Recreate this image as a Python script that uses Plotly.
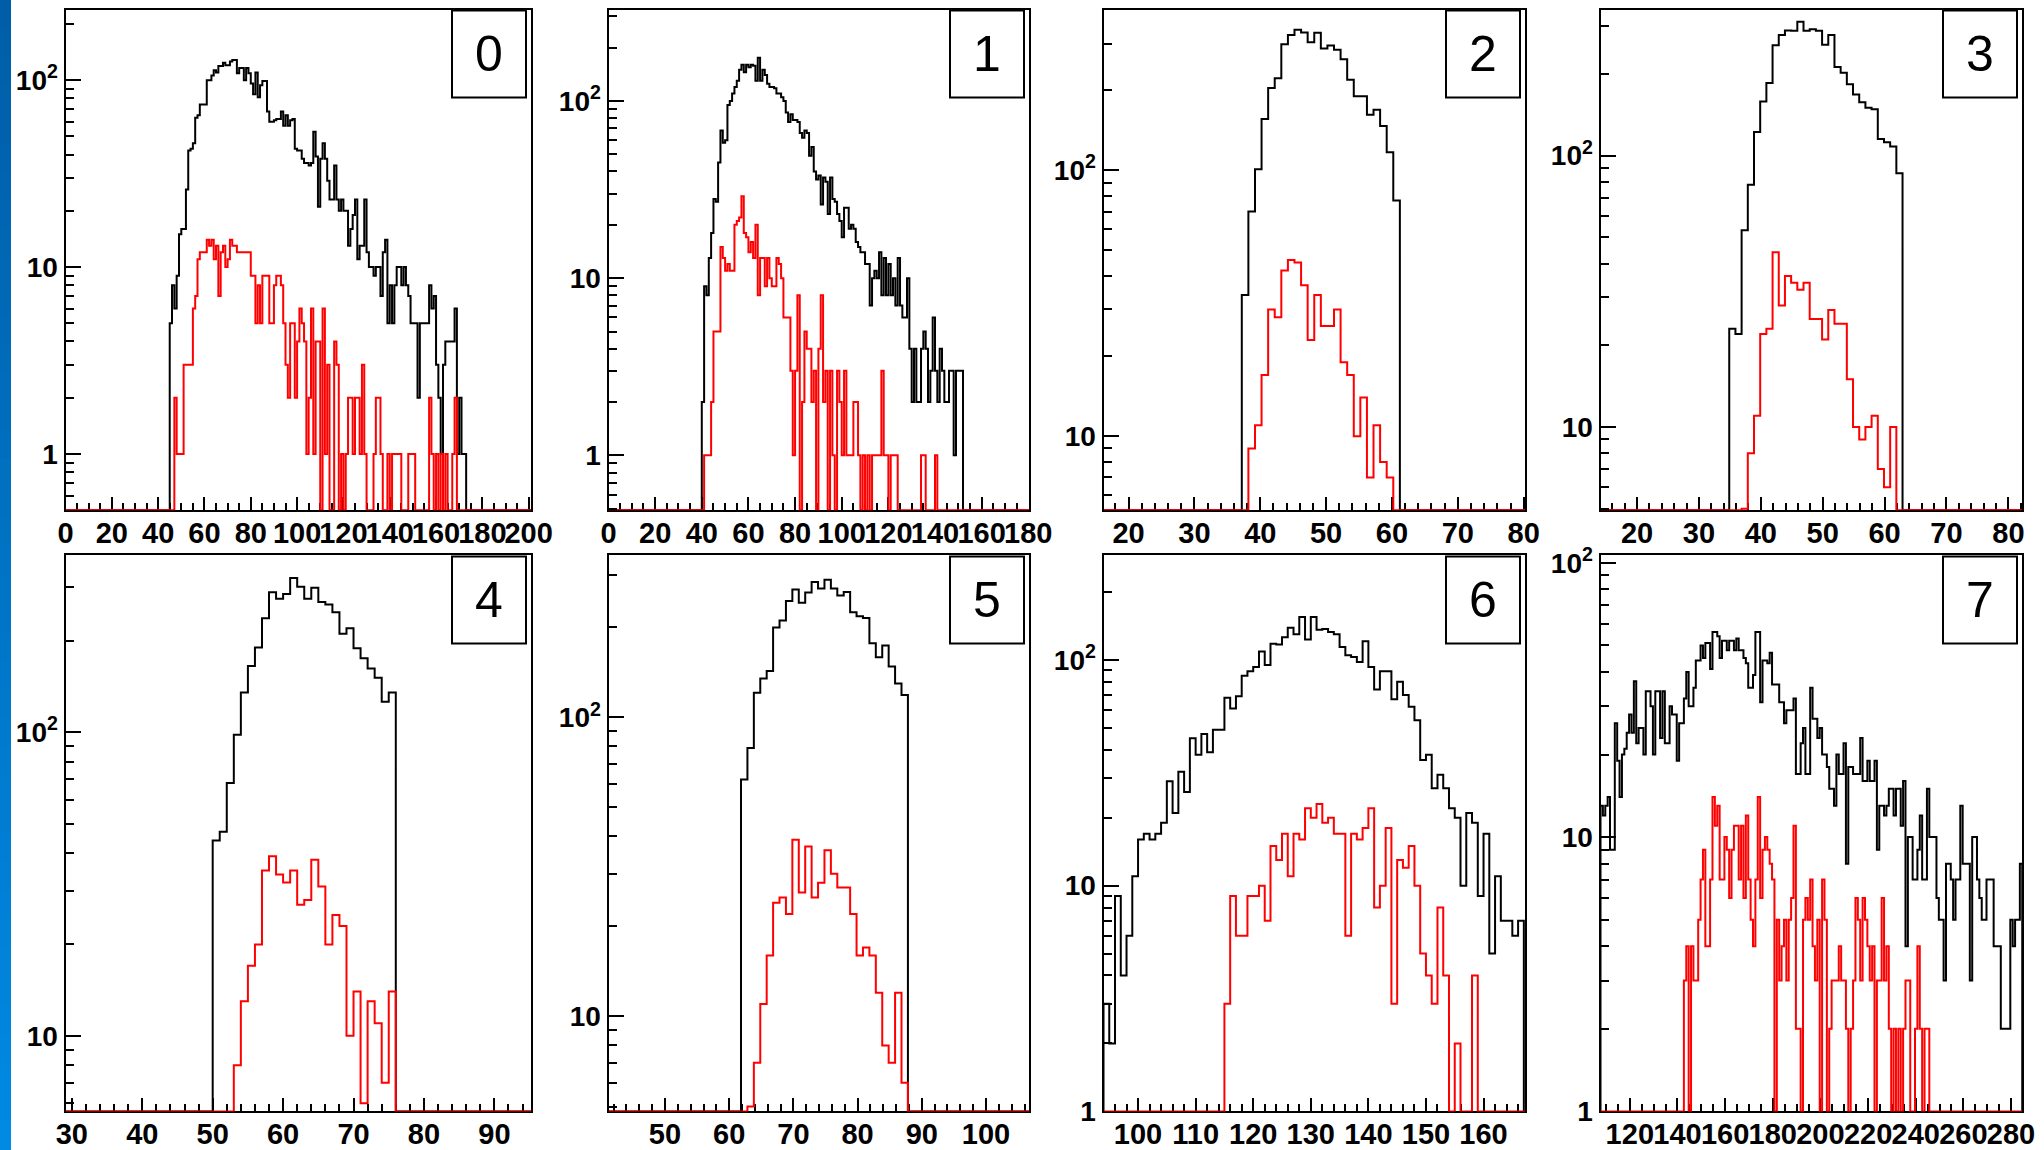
import numpy as np
import plotly.graph_objects as go

# ---------------- data ----------------
panel_labels = ["0", "1", "2", "3", "4", "5", "6", "7"]
bin_width = 1.0
black_start = [45, 40, 37.2, 34.9, 50, 61.84, 94, 107.7]
red_start = [45, 40, 37.2, 34.9, 50, 61.84, 94, 142.7]

p0_black = [5, 8, 6, 9, 15, 16, 16, 26, 42, 43,
            46, 63, 65, 74, 74, 74, 100, 100, 106, 113,
            110, 119, 119, 124, 120, 120, 126, 128, 128, 109,
            116, 116, 100, 116, 109, 96, 84, 110, 81, 94,
            99, 99, 68, 60, 60, 61, 62, 62, 68, 57,
            65, 57, 61, 62, 43, 42, 42, 38, 36, 36,
            35, 36, 53, 39, 21, 38, 46, 38, 29, 23,
            23, 35, 23, 20, 23, 20, 20, 13, 16, 19,
            23, 11, 13, 13, 23, 12, 10, 10, 9, 10,
            10, 7, 12, 14, 5, 8, 5, 8, 10, 10,
            8, 10, 8, 7, 5, 5, 5, 2, 5, 5,
            5, 5, 8, 6, 7, 3, 2, 1, 3, 4,
            4, 4, 4, 6, 1, 2, 1, 1]
p0_red = [0, 0, 2, 1, 1, 1, 3, 3, 3, 3,
          6, 7, 11, 12, 12, 12, 14, 13, 14, 11,
          13, 7, 12, 13, 10, 11, 14, 13, 13, 12,
          12, 12, 12, 12, 12, 9, 9, 5, 8, 5,
          9, 9, 9, 5, 5, 8, 9, 9, 8, 5,
          3, 2, 5, 5, 2, 4, 6, 5, 4, 1,
          2, 6, 1, 4, 4, 0, 6, 1, 3, 0,
          0, 4, 3, 0, 1, 0, 1, 2, 2, 1,
          2, 2, 1, 3, 1, 0, 0, 0, 1, 2,
          2, 1, 0, 0, 1, 0, 1, 1, 1, 1,
          0, 0, 0, 1, 1, 1, 0, 0, 0, 0,
          0, 0, 2, 1, 0, 1, 0, 1, 0, 1,
          0, 0, 1, 2, 0, 0, 0, 0]

p1_black = [2, 9, 8, 13, 18, 28, 27, 45, 68, 58,
            60, 95, 100, 110, 120, 130, 150, 160, 145, 160,
            155, 160, 158, 130, 175, 130, 150, 140, 125, 120,
            120, 118, 110, 110, 105, 100, 86, 76, 84, 78,
            78, 76, 66, 62, 68, 66, 49, 55, 40, 36,
            38, 26, 37, 35, 23, 37, 28, 27, 23, 21,
            17, 25, 25, 19, 20, 19, 16, 15, 14, 14,
            12, 12, 7, 10, 11, 10, 14, 8, 13, 8,
            12, 8, 10, 7, 13, 7, 6, 6, 10, 4,
            2, 4, 2, 2, 4, 5, 4, 2, 3, 6,
            3, 2, 4, 3, 2, 2, 3, 3, 1, 3,
            3, 3]
p1_red = [0, 1, 1, 1, 2, 5, 5, 5, 15, 13,
          11, 12, 11, 11, 20, 21, 22, 29, 18, 17,
          14, 16, 13, 20, 8, 13, 13, 9, 13, 10,
          9, 9, 13, 12, 10, 6, 6, 6, 3, 1,
          3, 8, 0, 2, 5, 4, 4, 2, 3, 0,
          4, 8, 2, 3, 0, 3, 1, 0, 3, 2,
          1, 3, 1, 1, 1, 2, 2, 1, 0, 1,
          0, 1, 0, 1, 1, 1, 1, 3, 1, 1,
          0, 1, 1, 1, 0, 0, 0, 0, 0, 0,
          0, 0, 0, 0, 1, 1, 0, 0, 0, 0,
          1, 0, 0, 0, 0, 0, 0, 0, 0, 0,
          0, 0]

p2_black = [34, 70, 101, 156, 204, 222, 298, 323, 338, 330, 303, 329,
            287, 295, 284, 262, 219, 190, 190, 162, 169, 147, 117, 77]
p2_red = [0, 9, 11, 17, 30, 28, 42, 46, 45, 37, 23, 34,
          26, 26, 30, 19, 17, 10, 14, 7, 11, 8, 7, 0]

p3_black = [23, 22, 53, 78, 122, 158, 185, 255, 278, 289, 288, 311, 288, 292,
            288, 256, 278, 212, 202, 183, 168, 157, 150, 148, 115, 112, 108, 86]
p3_red = [0, 0, 5, 8, 11, 22, 23, 44, 28, 36, 34, 32, 34, 25,
          25, 21, 27, 24, 24, 15, 10, 9, 10, 11, 7, 6, 10, 0]

p4_black = [44, 47, 68, 98, 135, 165, 190, 237, 289, 275, 285, 322, 301,
            275, 299, 268, 263, 248, 211, 220, 189, 175, 162, 151, 126, 135]
p4_red = [0, 0, 0, 8, 13, 17, 20, 35, 39, 34, 32, 35, 27,
          28, 38, 31, 20, 25, 23, 10, 14, 6, 13, 11, 7, 14]

p5_black = [62, 79, 121, 135, 143, 200, 211, 245, 268, 242, 262, 284, 270,
            289, 270, 256, 263, 225, 218, 215, 177, 159, 174, 148, 130, 119]
p5_red = [0, 5, 7, 11, 16, 24, 25, 22, 39, 26, 37, 25, 28,
          36, 30, 27, 27, 22, 16, 17, 16, 12, 8, 7, 12, 6]

p6_black = [3, 2, 9, 4, 6, 11, 16, 17, 16, 17,
            19, 29, 21, 32, 26, 45, 38, 47, 39, 49,
            49, 68, 61, 69, 85, 89, 93, 109, 95, 118,
            117, 126, 139, 130, 155, 123, 155, 136, 137, 133,
            130, 114, 105, 103, 98, 121, 93, 74, 89, 89,
            67, 80, 70, 62, 54, 36, 38, 27, 31, 27,
            22, 20, 10, 21, 19, 9, 17, 5, 11, 7,
            7, 6, 7]
p6_red = [0, 0, 0, 0, 0, 0, 0, 0, 0, 0,
          0, 0, 0, 0, 0, 0, 0, 0, 0, 0,
          0, 3, 9, 6, 6, 9, 9, 10, 7, 15,
          13, 17, 11, 17, 16, 22, 20, 23, 19, 20,
          17, 17, 6, 17, 16, 18, 22, 8, 10, 18,
          3, 13, 12, 15, 10, 5, 4, 3, 8, 4,
          0, 2, 0, 0, 4, 0, 0, 0, 0, 0,
          0, 0, 0]

p7_black = [13, 12, 13, 14, 9, 9, 26, 19, 14, 20,
            21, 24, 28, 24, 37, 22, 25, 25, 20, 34,
            34, 30, 20, 34, 34, 23, 34, 22, 22, 30,
            28, 28, 19, 26, 26, 32, 40, 30, 30, 35,
            44, 44, 50, 45, 51, 51, 41, 56, 56, 54,
            45, 52, 52, 48, 52, 52, 48, 53, 48, 48,
            45, 43, 35, 35, 39, 56, 56, 31, 44, 44,
            43, 47, 36, 36, 36, 31, 31, 26, 29, 29,
            29, 32, 17, 17, 22, 25, 17, 17, 35, 27,
            27, 23, 25, 20, 20, 18, 15, 15, 13, 20,
            17, 17, 22, 8, 18, 18, 17, 17, 17, 23,
            16, 16, 19, 16, 16, 19, 9, 13, 13, 12,
            13, 15, 15, 12, 15, 15, 11, 16, 4, 10,
            10, 7, 7, 9, 12, 7, 7, 15, 10, 10,
            10, 6, 5, 5, 3, 8, 8, 7, 5, 7,
            7, 13, 8, 8, 8, 3, 10, 10, 7, 6,
            5, 5, 7, 7, 7, 4, 4, 4, 2, 2,
            2, 2, 5, 4, 5, 5, 8]
p7_red = [3, 4, 0, 4, 3, 3, 5, 7, 9, 4,
          4, 7, 14, 11, 13, 7, 7, 10, 9, 6,
          9, 11, 11, 7, 11, 6, 12, 7, 5, 4,
          7, 14, 6, 9, 10, 9, 8, 7, 0, 5,
          3, 4, 5, 3, 5, 6, 11, 2, 2, 0,
          5, 6, 5, 7, 4, 3, 5, 0, 7, 5,
          0, 2, 3, 3, 3, 4, 3, 3, 2, 0,
          2, 3, 6, 5, 3, 6, 5, 4, 3, 4,
          0, 3, 3, 6, 3, 4, 2, 0, 2, 0,
          2, 0, 2, 3, 3, 0, 0, 2, 4, 2,
          0, 2, 2]

black_series = [p0_black, p1_black, p2_black, p3_black, p4_black, p5_black, p6_black, p7_black]
red_series = [p0_red, p1_red, p2_red, p3_red, p4_red, p5_red, p6_red, p7_red]

# axis settings
x_ranges = [[0, 201], [0, 180.3], [16.2, 80.2], [14.1, 82.2],
            [29.1, 95.2], [41.2, 106.7], [94, 167.2], [107.7, 284.6]]
y_ranges_log = [[-0.301, 2.378], [-0.31, 2.516], [0.7216, 2.605], [0.693, 2.538],
                [0.751, 2.582], [0.6826, 2.542], [0.0, 2.463], [0.0, 2.027]]
x_major_step = [20, 20, 10, 10, 10, 10, 10, 20]
x_minor_step = [5, 5, 2, 2, 2, 2, 2, 5]

# ---------------- layout geometry (pixels) ----------------
W, H = 2044, 1150
cols_px = [(65.5, 531), (608.5, 1029), (1103.5, 1525), (1600.5, 2022)]
rows_px = [(9.5, 510.3), (555.4, 1111.4)]
FONT = "Liberation Sans, Arial, Helvetica, sans-serif"


def step_xy(start, vals, floor, xr):
    n = len(vals)
    edges = [start + i * bin_width for i in range(n + 1)]
    x = [xr[0]] + edges + [xr[1]]
    y = [floor] + [v if v > 0 else floor for v in vals] + [floor, floor]
    return x, y


fig = go.Figure()
layout = dict(template="none", width=W, height=H, margin=dict(l=0, r=0, t=0, b=0, pad=0),
              paper_bgcolor="white", plot_bgcolor="white", showlegend=False)
shapes = []
annotations = []

for i in range(8):
    r, c = divmod(i, 4)
    x0p, x1p = cols_px[c]
    y0p, y1p = rows_px[r]
    xs = "" if i == 0 else str(i + 1)
    xr = x_ranges[i]
    ylo, yhi = y_ranges_log[i]
    floor = 10 ** ylo

    bx, by = step_xy(black_start[i], black_series[i], floor, xr)
    rx, ry = step_xy(red_start[i], red_series[i], floor, xr)
    fig.add_trace(go.Scatter(x=bx, y=by, mode="lines", line=dict(color="black", width=2, shape="hv"),
                             xaxis="x" + xs, yaxis="y" + xs, hoverinfo="skip"))
    fig.add_trace(go.Scatter(x=rx, y=ry, mode="lines", line=dict(color="#ff0000", width=2, shape="hv"),
                             xaxis="x" + xs, yaxis="y" + xs, hoverinfo="skip"))

    # x ticks
    ms = x_major_step[i]
    mj = [float(v) for v in np.arange(np.ceil(xr[0] / ms) * ms, xr[1] + 1e-6, ms)]
    mn_s = x_minor_step[i]
    mn = [float(v) for v in np.arange(np.ceil(xr[0] / mn_s) * mn_s, xr[1] + 1e-6, mn_s)
          if abs(v / ms - round(v / ms)) > 1e-6]
    # y ticks
    ymaj = [10.0 ** d for d in range(-1, 4) if ylo - 1e-6 <= d <= yhi + 1e-6]
    ytxt = []
    for v in ymaj:
        d = int(round(np.log10(v)))
        ytxt.append("1" if d == 0 else ("10" if d == 1 else "10<sup>%d</sup>" % d))
    ymin_ticks = [m * 10.0 ** d for d in range(-1, 3) for m in range(2, 10)
                  if ylo - 1e-6 <= np.log10(m * 10.0 ** d) <= yhi + 1e-6]

    layout["xaxis" + xs] = dict(
        domain=[x0p / W, x1p / W], anchor="y" + xs, range=xr, automargin=False,
        showgrid=False, zeroline=False, showline=True, linecolor="black", linewidth=2,
        mirror=True, ticks="inside", ticklen=13, tickwidth=2, tickcolor="black",
        tickmode="array", tickvals=mj, ticktext=["%d" % v for v in mj], tickangle=0,
        ticklabelstandoff=-4,
        tickfont=dict(family=FONT, size=29, color="black", weight="bold"),
        minor=dict(ticks="inside", ticklen=7, tickwidth=1.5, tickcolor="black",
                   tickmode="array", tickvals=mn, showgrid=False),
        layer="below traces", fixedrange=True)
    layout["yaxis" + xs] = dict(
        domain=[(H - y1p) / H, (H - y0p) / H], anchor="x" + xs, type="log", range=[ylo, yhi],
        automargin=False,
        showgrid=False, zeroline=False, showline=True, linecolor="black", linewidth=2,
        mirror=True, ticks="inside", ticklen=15, tickwidth=2, tickcolor="black",
        tickmode="array", tickvals=ymaj, ticktext=ytxt,
        tickfont=dict(family=FONT, size=28, color="black", weight="bold"),
        minor=dict(ticks="inside", ticklen=8, tickwidth=1.5, tickcolor="black",
                   tickmode="array", tickvals=ymin_ticks, showgrid=False),
        fixedrange=True)

    # label box
    bx1 = x1p - 5
    bx0 = bx1 - 74
    by0 = y0p + 1
    by1 = by0 + 87
    shapes.append(dict(type="rect", xref="paper", yref="paper",
                       x0=bx0 / W, x1=bx1 / W, y0=(H - by1) / H, y1=(H - by0) / H,
                       line=dict(color="black", width=2), fillcolor="white", layer="above"))
    annotations.append(dict(xref="paper", yref="paper", x=(bx0 + bx1) / 2 / W, y=(H - (by0 + by1) / 2) / H,
                            text=panel_labels[i], showarrow=False, xanchor="center", yanchor="middle",
                            font=dict(family=FONT, size=50, color="black")))

# left blue strip (gradient)
nstrip = 40
for k in range(nstrip):
    t = k / (nstrip - 1)
    gg = int(94 + t * 44)
    bb = int(168 + t * 58)
    shapes.append(dict(type="rect", xref="paper", yref="paper", x0=0, x1=11 / W,
                       y0=1 - (k + 1) / nstrip, y1=1 - k / nstrip + 0.001,
                       line=dict(width=0), fillcolor="rgb(0,%d,%d)" % (gg, bb), layer="above"))

layout["shapes"] = shapes
layout["annotations"] = annotations
fig.update_layout(**layout)
fig.write_html("out.html")
